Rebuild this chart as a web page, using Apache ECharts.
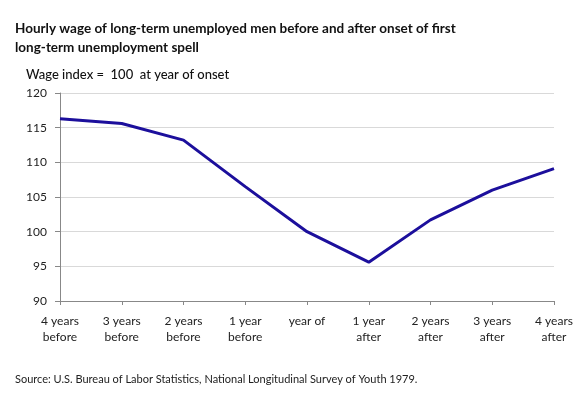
<!DOCTYPE html>
<html lang="en">
<head>
  <meta charset="UTF-8">
  <title>wage_index</title>
  <script src="https://cdn.jsdelivr.net/npm/echarts@6/dist/echarts.min.js"></script>
  <style>
    *{margin:0;padding:0;}
    body{background:#fff;}
    .container{width:580px;height:396px;}
  </style>
</head>
<body>
  <div class="container"></div>
  <script type="text/javascript">
    var categories = ['4 years\nbefore','3 years\nbefore','2 years\nbefore','1 year\nbefore','year of','1 year\nafter','2 years\nafter','3 years\nafter','4 years\nafter']
    var wageIndex = [116.3, 115.6, 113.2, 106.5, 100, 95.6, 101.7, 106, 109.1]
    var yTicks = {min: 90, max: 120, interval: 5}

    var font = 'Lato, "Open Sans", sans-serif'
    const mCharts = echarts.init(document.querySelector('.container'))
    var option = {
      title: [
        {
          text: 'Hourly wage of long-term unemployed men before and after onset of first\nlong-term unemployment spell',
          left: 10, top: 14,
          textStyle: {fontFamily: font, fontSize: 13.5, fontWeight: 'bold', color: '#111', lineHeight: 19}
        },
        {
          text: 'Wage index =  100  at year of onset',
          left: 21, top: 63,
          textStyle: {fontFamily: font, fontSize: 13, fontWeight: 500, color: '#111'}
        },
        {
          text: 'Source: U.S. Bureau of Labor Statistics, National Longitudinal Survey of Youth 1979.',
          left: 10, top: 369,
          textStyle: {fontFamily: font, fontSize: 11, fontWeight: 'normal', color: '#222'}
        }
      ],
      grid: {left: 60, right: 26, top: 93, bottom: 95},
      xAxis: {
        type: 'category',
        data: categories,
        boundaryGap: false,
        axisLine: {lineStyle: {color: '#888'}},
        axisTick: {show: true, length: 4, lineStyle: {color: '#888'}},
        axisLabel: {fontFamily: font, fontSize: 12, color: '#222', margin: 12, lineHeight: 16, interval: 0}
      },
      yAxis: {
        type: 'value',
        min: yTicks.min, max: yTicks.max, interval: yTicks.interval,
        axisLine: {show: true, lineStyle: {color: '#888'}},
        axisTick: {show: true, length: 5, lineStyle: {color: '#888'}},
        splitLine: {lineStyle: {color: '#d9d9d9'}},
        axisLabel: {fontFamily: font, fontSize: 12, color: '#222', margin: 13}
      },
      series: [
        {
          type: 'line',
          data: wageIndex,
          symbol: 'none',
          lineStyle: {color: '#1c0f9c', width: 3}
        }
      ],
      animation: false
    }
    mCharts.setOption(option)
  </script>
</body>
</html>
